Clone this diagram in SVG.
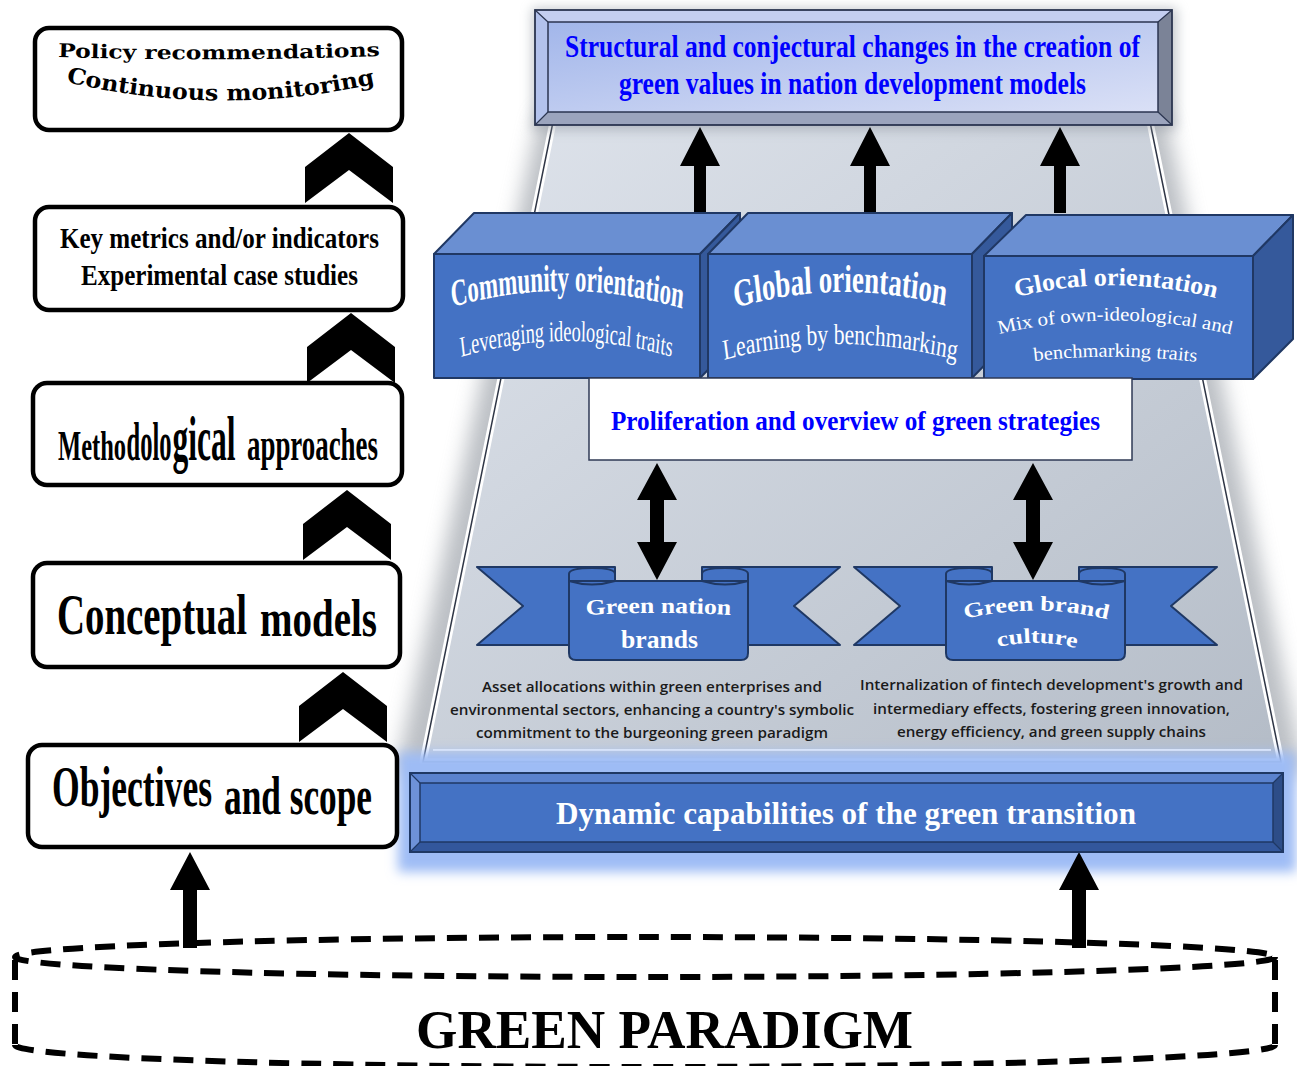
<svg xmlns="http://www.w3.org/2000/svg" width="1297" height="1066" viewBox="0 0 1297 1066">
<defs>
  <style>
    .box{fill:#fff;stroke:#000;stroke-width:4.5}
    .sb{font-family:"Liberation Serif","Times New Roman",serif;font-weight:bold}
    .sr{font-family:"Liberation Serif","Times New Roman",serif;font-weight:normal}
    .heavy{font-family:"DejaVu Serif",serif;font-weight:bold}
    .cal{font-family:"Open Sans","Liberation Sans",sans-serif;font-weight:600;font-size:14px;fill:#1a1a1a}
    .cube{stroke:#203864;stroke-width:2;stroke-linejoin:round}
    .front{fill:#4472c4}
    .top{fill:#6a8fd2}
    .side{fill:#35599b}
    .wt{fill:#fff}
    .blue{fill:#0000ff}
    .rib{fill:#4472c4;stroke:#1f3864;stroke-width:2;stroke-linejoin:round}
    .arr{fill:#000}
  </style>
  <linearGradient id="trapFill" x1="0" y1="0" x2="1" y2="1">
    <stop offset="0" stop-color="#dfe4ec"/>
    <stop offset="1" stop-color="#b4bcc7"/>
  </linearGradient>
  <linearGradient id="bannerFill" x1="0" y1="0" x2="1" y2="1">
    <stop offset="0" stop-color="#a2b6ea"/>
    <stop offset="1" stop-color="#dae0f6"/>
  </linearGradient>
  <filter id="blur10" x="-20%" y="-20%" width="140%" height="140%">
    <feGaussianBlur stdDeviation="10"/>
  </filter>
  <filter id="blur6" x="-10%" y="-40%" width="120%" height="180%">
    <feGaussianBlur stdDeviation="6"/>
  </filter>
  <path id="upArrow" d="M0,0 L20,39 L6,39 L6,86 L-6,86 L-6,39 L-20,39 Z"/>
  <path id="upArrow2" d="M0,0 L20,38 L7,38 L7,96 L-7,96 L-7,38 L-20,38 Z"/>
  <path id="dblArrow" d="M0,0 L20,37 L7,37 L7,79 L20,79 L0,117 L-20,79 L-7,79 L-7,37 L-20,37 Z"/>
  <path id="chev" d="M0,0 L44,34 L44,70 L0,37 L-44,70 L-44,34 Z"/>
  <g id="ribbon">
    <path class="rib" d="M0,0 L138,0 L138,78 L0,78 L46,39 Z"/>
    <path class="rib" d="M363,0 L225,0 L225,78 L363,78 L317,39 Z"/>
    <path class="rib" d="M92,14 L92,7 Q92,1 115,1 Q138,1 138,7 L138,14 Z"/>
    <path class="rib" d="M225,14 L225,7 Q225,1 248,1 Q271,1 271,7 L271,14 Z"/>
    <path class="rib" d="M92,14 L271,14 L271,86 Q271,93 264,93 L99,93 Q92,93 92,86 Z"/>
    <path d="M92,14 Q115,21 138,14 M225,14 Q248,21 271,14" fill="none" stroke="#1f3864" stroke-width="2"/>
  </g>
  <!-- cube 1 paths in local coords of translate(434,0) scale(0.62,1) -->
  <path id="p1a" d="M29,307 Q214.5,274 403.2,309"/>
  <path id="p1b" d="M43.5,357 Q212.9,325 383.9,357"/>
  <!-- cube 2 paths in local coords of translate(708,0) scale(0.71,1) -->
  <path id="p2a" d="M38,308 Q185.9,277 335.2,306"/>
  <path id="p2b" d="M22.5,360 Q185.9,328 349.3,360"/>
  <path id="p3a" d="M1016,297 Q1115,273 1215,298"/>
  <path id="p3b" d="M999,334 Q1114,307 1229,334"/>
  <path id="p3c" d="M1034,361 Q1115,352 1196,362"/>
  <path id="pr1a" d="M586,615 Q658,611 731,615"/>
  <path id="pr2a" d="M965,619 Q1036,602 1106,619"/>
  <path id="pr2b" d="M998,647 Q1037,638 1076,648"/>
  <path id="pPol1" d="M58,57 Q219,62 380,56"/>
  <path id="pPol2" d="M66,82 Q220,118 374,84"/>
</defs>

<rect width="1297" height="1066" fill="#fff"/>

<!-- background trapezoid -->
<g id="trapezoid">
  <polygon points="540,112 1165,112 1305,775 395,775" fill="#8f959e" opacity="0.6" filter="url(#blur10)"/>
  <polygon points="553,122 1150,122 1281,762 423,762" fill="url(#trapFill)" stroke="#fff" stroke-width="7" stroke-linejoin="round"/>
  <polygon points="553,122 1150,122 1281,762 423,762" fill="none" stroke="#2f3646" stroke-width="1.5"/>
  <polyline points="433,750 1271,750" fill="none" stroke="#f4f6fa" stroke-width="2"/>
</g>

<!-- glow of bottom box -->
<rect x="398" y="752" width="898" height="120" fill="#9ebcf5" filter="url(#blur6)"/>

<!-- top banner -->
<g id="banner">
  <rect x="532" y="8" width="645" height="122" fill="#8c939d" opacity="0.5" filter="url(#blur6)"/>
  <polygon points="535,10 1172,10 1158,22 548,22" fill="#c4cef0"/>
  <polygon points="535,10 548,22 548,112 535,125" fill="#b3c2ec"/>
  <polygon points="1172,10 1172,125 1158,112 1158,22" fill="#7b8397"/>
  <polygon points="535,125 548,112 1158,112 1172,125" fill="#9ba4bd"/>
  <rect x="548" y="22" width="610" height="90" fill="url(#bannerFill)"/>
  <path d="M535,10 L548,22 M1172,10 L1158,22 M535,125 L548,112 M1172,125 L1158,112" stroke="#2b3550" stroke-width="1.2"/>
  <rect x="548" y="22" width="610" height="90" fill="none" stroke="#2b3550" stroke-width="1.5"/>
  <rect x="535" y="10" width="637" height="115" fill="none" stroke="#2b3550" stroke-width="1.8"/>
  <text class="sb blue" font-size="31" transform="scale(0.823,1)">
    <tspan x="686.5" y="57" textLength="698.7" lengthAdjust="spacingAndGlyphs">Structural and conjectural changes in the creation of</tspan>
    <tspan x="752.1" y="94" textLength="567.4" lengthAdjust="spacingAndGlyphs">green values in nation development models</tspan>
  </text>
</g>

<!-- connectors -->
<g id="connectors">
  <use href="#upArrow" class="arr" transform="translate(700,127)"/>
  <use href="#upArrow" class="arr" transform="translate(870,127)"/>
  <use href="#upArrow" class="arr" transform="translate(1060,127)"/>
  <use href="#dblArrow" class="arr" transform="translate(657,463)"/>
  <use href="#dblArrow" class="arr" transform="translate(1033,463)"/>
  <use href="#upArrow2" class="arr" transform="translate(190,852)"/>
  <use href="#upArrow2" class="arr" transform="translate(1079,852)"/>
  <use href="#chev" class="arr" transform="translate(349,133)"/>
  <use href="#chev" class="arr" transform="translate(351,313)"/>
  <use href="#chev" class="arr" transform="translate(347,490)"/>
  <use href="#chev" class="arr" transform="translate(343,672)"/>
</g>

<!-- cubes -->
<g id="cube-community">
  <polygon class="cube top" points="434,254 474,213 740,213 700,254"/>
  <polygon class="cube side" points="700,254 740,213 740,337 700,378"/>
  <rect class="cube front" x="434" y="254" width="266" height="124"/>
  <text class="sb wt" font-size="38" transform="translate(434,0) scale(0.62,1)"><textPath href="#p1a" textLength="374" lengthAdjust="spacingAndGlyphs">Community orientation</textPath></text>
  <text class="sr wt" font-size="29" transform="translate(434,0) scale(0.62,1)"><textPath href="#p1b" textLength="342" lengthAdjust="spacingAndGlyphs">Leveraging ideological traits</textPath></text>
</g>
<g id="cube-global">
  <polygon class="cube top" points="708,254 748,213 1012,213 972,254"/>
  <polygon class="cube side" points="972,254 1012,213 1012,337 972,378"/>
  <rect class="cube front" x="708" y="254" width="264" height="124"/>
  <text class="sb wt" font-size="39" transform="translate(708,0) scale(0.71,1)"><textPath href="#p2a" textLength="298.6" lengthAdjust="spacingAndGlyphs">Global orientation</textPath></text>
  <text class="sr wt" font-size="29" transform="translate(708,0) scale(0.71,1)"><textPath href="#p2b" textLength="329.6" lengthAdjust="spacingAndGlyphs">Learning by benchmarking</textPath></text>
</g>
<g id="cube-glocal">
  <polygon class="cube top" points="984,256 1026,215 1293,215 1253,256"/>
  <polygon class="cube side" points="1253,256 1293,215 1293,339 1253,379"/>
  <rect class="cube front" x="984" y="256" width="269" height="123"/>
  <text class="sb wt" font-size="25"><textPath href="#p3a" textLength="202" lengthAdjust="spacingAndGlyphs">Glocal orientation</textPath></text>
  <text class="sr wt" font-size="19"><textPath href="#p3b" textLength="234" lengthAdjust="spacingAndGlyphs">Mix of own-ideological and</textPath></text>
  <text class="sr wt" font-size="19"><textPath href="#p3c" textLength="163" lengthAdjust="spacingAndGlyphs">benchmarking traits</textPath></text>
</g>

<!-- proliferation box -->
<g id="proliferation">
  <rect x="589" y="378" width="543" height="82" fill="#fff" stroke="#2f3a55" stroke-width="1.5"/>
  <text class="sb blue" font-size="27" transform="translate(611,430) scale(0.93,1)" textLength="525.8" lengthAdjust="spacingAndGlyphs">Proliferation and overview of green strategies</text>
</g>

<!-- ribbons -->
<g id="ribbon-nation">
  <use href="#ribbon" transform="translate(477,567)"/>
  <text class="sb wt" font-size="22"><textPath href="#pr1a" textLength="145" lengthAdjust="spacingAndGlyphs">Green nation</textPath><tspan x="621" y="648" font-size="25" textLength="77" lengthAdjust="spacingAndGlyphs">brands</tspan></text>
  <text class="cal">
    <tspan x="482" y="692" textLength="340" lengthAdjust="spacingAndGlyphs">Asset allocations within green enterprises and</tspan>
    <tspan x="450" y="715" textLength="404" lengthAdjust="spacingAndGlyphs">environmental sectors, enhancing a country's symbolic</tspan>
    <tspan x="476" y="738" textLength="352" lengthAdjust="spacingAndGlyphs">commitment to the burgeoning green paradigm</tspan>
  </text>
</g>
<g id="ribbon-culture">
  <use href="#ribbon" transform="translate(854,567)"/>
  <text class="sb wt" font-size="21"><textPath href="#pr2a" textLength="144" lengthAdjust="spacingAndGlyphs">Green brand</textPath></text>
  <text class="sb wt" font-size="21"><textPath href="#pr2b" textLength="79" lengthAdjust="spacingAndGlyphs">culture</textPath></text>
  <text class="cal">
    <tspan x="860" y="690" textLength="383" lengthAdjust="spacingAndGlyphs">Internalization of fintech development's growth and</tspan>
    <tspan x="873" y="714" textLength="357" lengthAdjust="spacingAndGlyphs">intermediary effects, fostering green innovation,</tspan>
    <tspan x="897" y="737" textLength="309" lengthAdjust="spacingAndGlyphs">energy efficiency, and green supply chains</tspan>
  </text>
</g>

<!-- dynamic capabilities box -->
<g id="dynamic">
  <polygon points="410,773 1283,773 1273,783 420,783" fill="#5a82ce"/>
  <polygon points="410,773 420,783 420,842 410,852" fill="#6e92d8"/>
  <polygon points="1283,773 1283,852 1273,842 1273,783" fill="#2d4d88"/>
  <polygon points="410,852 420,842 1273,842 1283,852" fill="#33579c"/>
  <rect x="420" y="783" width="853" height="59" fill="#4472c4" stroke="#1f3864" stroke-width="1.5"/>
  <path d="M410,773 L420,783 M1283,773 L1273,783 M410,852 L420,842 M1283,852 L1273,842" stroke="#1f3864" stroke-width="1.2"/>
  <rect x="410" y="773" width="873" height="79" fill="none" stroke="#1f3864" stroke-width="2"/>
  <text class="sb wt" x="556" y="824" font-size="31" textLength="580" lengthAdjust="spacingAndGlyphs">Dynamic capabilities of the green transition</text>
</g>

<!-- left column -->
<g id="policy">
  <rect class="box" x="35" y="28" width="367" height="102" rx="14"/>
  <text class="heavy" font-size="19"><textPath href="#pPol1" textLength="322" lengthAdjust="spacingAndGlyphs">Policy recommendations</textPath><textPath href="#pPol2" font-size="22" textLength="312" lengthAdjust="spacingAndGlyphs">Continuous monitoring</textPath></text>
</g>
<g id="metrics">
  <rect class="box" x="35" y="207" width="368" height="103" rx="14"/>
  <text class="sb" font-size="30" transform="scale(0.834,1)">
    <tspan x="71.9" y="248" textLength="382.5" lengthAdjust="spacingAndGlyphs">Key metrics and/or indicators</tspan>
    <tspan x="97.1" y="285" textLength="332.1" lengthAdjust="spacingAndGlyphs">Experimental case studies</tspan>
  </text>
</g>
<g id="methodological">
  <rect class="box" x="33" y="383" width="369" height="102" rx="14"/>
  <text class="sb" font-size="42" transform="translate(58,460) scale(0.592,1)" textLength="115" lengthAdjust="spacingAndGlyphs">Metho</text>
  <text class="sb" font-size="54" transform="translate(126.5,460) scale(0.465,1)" textLength="96.8" lengthAdjust="spacingAndGlyphs">dolo</text>
  <text class="sb" font-size="64" transform="translate(172.5,460) scale(0.492,1)" textLength="128" lengthAdjust="spacingAndGlyphs">gical</text>
  <text class="sb" font-size="46" transform="translate(247,460) scale(0.582,1)" textLength="225" lengthAdjust="spacingAndGlyphs">approaches</text>
</g>
<g id="conceptual">
  <rect class="box" x="33" y="563" width="367" height="104" rx="14"/>
  <text class="sb" font-size="56" transform="translate(57,634) scale(0.694,1)" textLength="273.8" lengthAdjust="spacingAndGlyphs">Conceptual</text>
  <text class="sb" font-size="52" transform="translate(260,636) scale(0.75,1)" textLength="156" lengthAdjust="spacingAndGlyphs">models</text>
</g>
<g id="objectives">
  <rect class="box" x="28" y="745" width="369" height="102" rx="14"/>
  <text class="sb" font-size="56" transform="translate(52,806) scale(0.635,1)" textLength="252" lengthAdjust="spacingAndGlyphs">Objectives</text>
  <text class="sb" font-size="54" transform="translate(224,814) scale(0.653,1)" textLength="226.6" lengthAdjust="spacingAndGlyphs">and scope</text>
</g>

<!-- green paradigm cylinder -->
<g id="paradigm">
  <g fill="none" stroke="#000" stroke-width="6" stroke-dasharray="20 12">
    <ellipse cx="645" cy="957" rx="630" ry="20"/>
    <path d="M15,960 L15,1045"/>
    <path d="M1275,960 L1275,1045"/>
    <path d="M15,1045 A630,22 0 0 0 1275,1045"/>
  </g>
  <text class="sb" x="416" y="1048" font-size="54" textLength="497" lengthAdjust="spacingAndGlyphs">GREEN PARADIGM</text>
</g>
</svg>
